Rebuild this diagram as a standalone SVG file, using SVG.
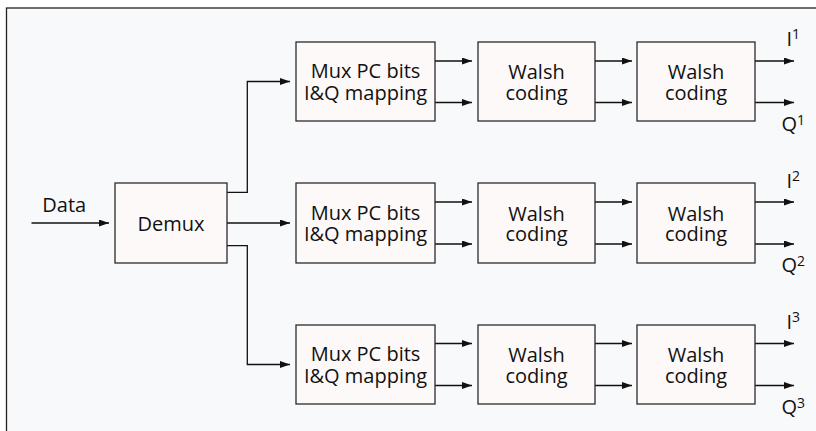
<svg xmlns="http://www.w3.org/2000/svg" width="816" height="431" viewBox="0 0 816 431">
<style>
.box{fill:#fdf9f8;stroke:#2b2b2b;stroke-width:1.3}
.t{font-family:"Open Sans","Liberation Sans",sans-serif;font-size:20px;fill:#111;text-anchor:middle}
.l{font-family:"Open Sans","Liberation Sans",sans-serif;font-size:20px;fill:#111}
.s{font-size:14px}
.c{fill:none;stroke:#111;stroke-width:1.3}
</style>
<defs>
<marker id="ah" markerUnits="userSpaceOnUse" markerWidth="11" markerHeight="8" refX="10" refY="3.5" orient="auto">
<path d="M0,0 L10,3.5 L0,7 z" fill="#111"/>
</marker>
</defs>
<rect x="0" y="0" width="816" height="431" fill="#ffffff"/>
<rect x="6.5" y="8" width="830" height="440" fill="#f8f9fb" stroke="#222" stroke-width="1.3"/>

<g id="connectors">
<path class="c" d="M31.5,223 H109" marker-end="url(#ah)"/>
<path class="c" d="M227,192.3 H247.3 V81.5 H290" marker-end="url(#ah)"/>
<path class="c" d="M227,223 H290" marker-end="url(#ah)"/>
<path class="c" d="M227,245.7 H247.3 V364.5 H290" marker-end="url(#ah)"/>

<path class="c" d="M435,61 H472" marker-end="url(#ah)"/>
<path class="c" d="M435,102.5 H472" marker-end="url(#ah)"/>
<path class="c" d="M595,61 H632" marker-end="url(#ah)"/>
<path class="c" d="M595,102.5 H632" marker-end="url(#ah)"/>
<path class="c" d="M755,61 H794" marker-end="url(#ah)"/>
<path class="c" d="M755,102.5 H794" marker-end="url(#ah)"/>

<path class="c" d="M435,202 H472" marker-end="url(#ah)"/>
<path class="c" d="M435,244 H472" marker-end="url(#ah)"/>
<path class="c" d="M595,202 H632" marker-end="url(#ah)"/>
<path class="c" d="M595,244 H632" marker-end="url(#ah)"/>
<path class="c" d="M755,202 H794" marker-end="url(#ah)"/>
<path class="c" d="M755,244 H794" marker-end="url(#ah)"/>

<path class="c" d="M435,343.5 H472" marker-end="url(#ah)"/>
<path class="c" d="M435,385.5 H472" marker-end="url(#ah)"/>
<path class="c" d="M595,343.5 H632" marker-end="url(#ah)"/>
<path class="c" d="M595,385.5 H632" marker-end="url(#ah)"/>
<path class="c" d="M755,343.5 H794" marker-end="url(#ah)"/>
<path class="c" d="M755,385.5 H794" marker-end="url(#ah)"/>
</g>

<text class="t" x="64.2" y="211.7">Data</text>

<g id="demux">
<rect class="box" x="115" y="183" width="112" height="80"/>
<text class="t" x="171" y="230.7">Demux</text>
</g>

<g id="mux1">
<rect class="box" x="296" y="42" width="139" height="79"/>
<text class="t" x="365.5" y="78">Mux PC bits</text>
<text class="t" x="365.5" y="99.5">I&amp;Q mapping</text>
</g>
<g id="walshA1">
<rect class="box" x="478" y="42" width="117" height="79"/>
<text class="t" x="536.5" y="79">Walsh</text>
<text class="t" x="536.5" y="99.5">coding</text>
</g>
<g id="walshB1">
<rect class="box" x="637" y="42" width="118" height="79"/>
<text class="t" x="696" y="79">Walsh</text>
<text class="t" x="696" y="99.5">coding</text>
</g>

<g id="mux2">
<rect class="box" x="296" y="183" width="139" height="80"/>
<text class="t" x="365.5" y="219.5">Mux PC bits</text>
<text class="t" x="365.5" y="241">I&amp;Q mapping</text>
</g>
<g id="walshA2">
<rect class="box" x="478" y="183" width="117" height="80"/>
<text class="t" x="536.5" y="220.5">Walsh</text>
<text class="t" x="536.5" y="241">coding</text>
</g>
<g id="walshB2">
<rect class="box" x="637" y="183" width="118" height="80"/>
<text class="t" x="696" y="220.5">Walsh</text>
<text class="t" x="696" y="241">coding</text>
</g>

<g id="mux3">
<rect class="box" x="296" y="325" width="139" height="79"/>
<text class="t" x="365.5" y="361">Mux PC bits</text>
<text class="t" x="365.5" y="382.5">I&amp;Q mapping</text>
</g>
<g id="walshA3">
<rect class="box" x="478" y="325" width="117" height="79"/>
<text class="t" x="536.5" y="362">Walsh</text>
<text class="t" x="536.5" y="382.5">coding</text>
</g>
<g id="walshB3">
<rect class="box" x="637" y="325" width="118" height="79"/>
<text class="t" x="696" y="362">Walsh</text>
<text class="t" x="696" y="382.5">coding</text>
</g>

<g id="labels">
<text class="l" x="786.5" y="46">I<tspan class="s" dy="-7">1</tspan></text>
<text class="l" x="781.5" y="131">Q<tspan class="s" dy="-6">1</tspan></text>
<text class="l" x="786.5" y="187.5">I<tspan class="s" dy="-7">2</tspan></text>
<text class="l" x="781.5" y="272">Q<tspan class="s" dy="-6">2</tspan></text>
<text class="l" x="786.5" y="328.5">I<tspan class="s" dy="-7">3</tspan></text>
<text class="l" x="781.5" y="414">Q<tspan class="s" dy="-6">3</tspan></text>
</g>
</svg>
